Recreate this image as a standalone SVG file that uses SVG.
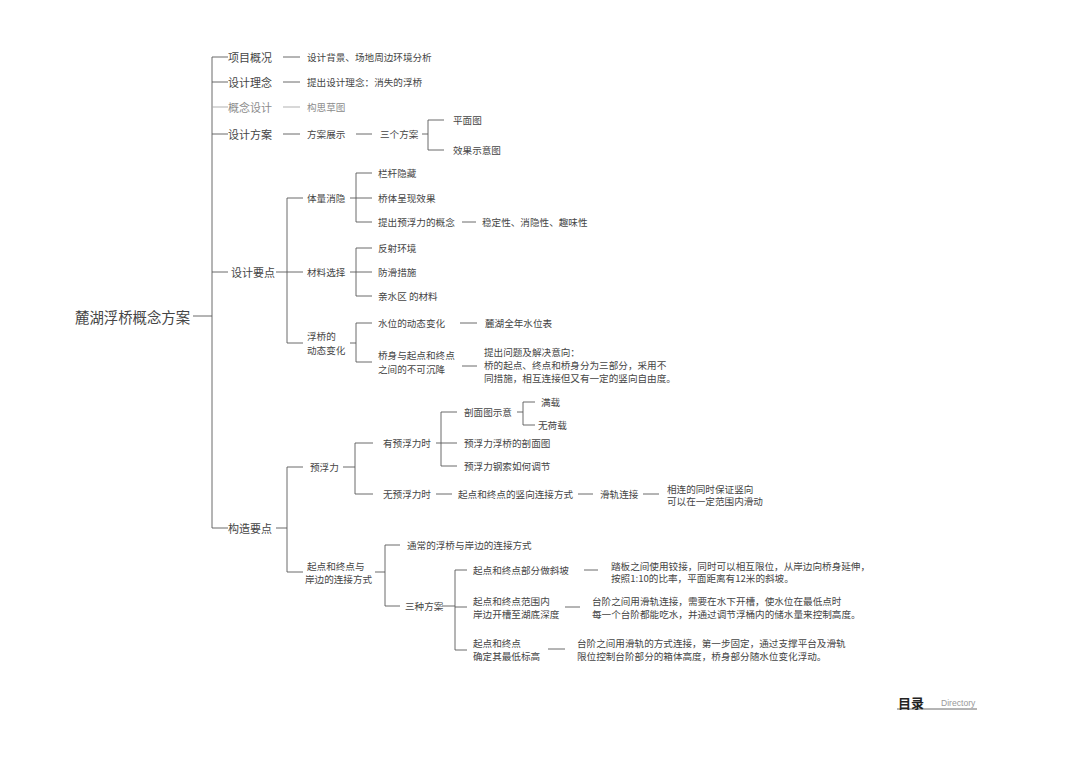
<svg xmlns="http://www.w3.org/2000/svg" width="1080" height="764" viewBox="0 0 1080 764">
<style>
text{font-family:"Noto Sans CJK SC","Liberation Serif",serif;fill:#454545;dominant-baseline:central}
.s{font-size:9.6px}
.m{font-size:11px}
.r{font-size:14.4px}
.lt{fill:#8c8c8c}
.c path{fill:none;stroke:#5a5a5a;stroke-width:0.9}
.c path.l{stroke:#a8a8a8}
</style>
<rect width="1080" height="764" fill="#fff"/>
<g id="connectors" class="c">
<path d="M212 57V528M193 316H212"/>
<path d="M212 57H228M212 82H228M212 134H228M212 272H228M212 528H228"/>
<path class="l" d="M212 107H228M283 107H300"/>
<path d="M283 57H300M283 82H300M283 134H300M356 134H372M422 134H428M444 120H428V150H444"/>
<path d="M276 272H303M287 198V343M287 198H303M287 343H303"/>
<path d="M350 198H356M372 173H356V222H372M356 198H372M462 222H476"/>
<path d="M350 272H372M372 248H356V296H372"/>
<path d="M350 343H356M372 323H356V362H372M460 323H477M462 366H477"/>
<path d="M276 528H287M287 467V572M287 467H303M287 572H303"/>
<path d="M343 467H355M373 443H355V494H373"/>
<path d="M436 443H441M457 412H441V466H457M441 443H457M517 412H523M535 402H523V425H535"/>
<path d="M436 494H452M578 494H593M643 494H659"/>
<path d="M375 572H385M400 545H385V606H400M442 606H455M467 570H455V650H467M455 607H467"/>
<path d="M584 570H598M565 607H580M548 649H565"/>
<path d="M897 709H977" stroke="#222" stroke-width="1.2"/>
</g>
<g id="root"><text class="r" x="75" y="316">麓湖浮桥概念方案</text></g>
<g id="n1"><text class="m" x="228" y="57">项目概况</text><text class="s" x="307" y="57">设计背景、场地周边环境分析</text></g>
<g id="n2"><text class="m" x="228" y="82">设计理念</text><text class="s" x="307" y="82">提出设计理念：消失的浮桥</text></g>
<g id="n3"><text class="m lt" x="228" y="107">概念设计</text><text class="s lt" x="307" y="107">构思草图</text></g>
<g id="n4"><text class="m" x="228" y="134">设计方案</text><text class="s" x="307" y="134">方案展示</text><text class="s" x="380" y="134">三个方案</text><text class="s" x="453" y="120">平面图</text><text class="s" x="453" y="150">效果示意图</text></g>
<g id="n5"><text class="m" x="231" y="272">设计要点</text></g>
<g id="n5a"><text class="s" x="307" y="198">体量消隐</text><text class="s" x="378" y="173">栏杆隐藏</text><text class="s" x="378" y="198">桥体呈现效果</text><text class="s" x="378" y="222">提出预浮力的概念</text><text class="s" x="482" y="222">稳定性、消隐性、趣味性</text></g>
<g id="n5b"><text class="s" x="307" y="272">材料选择</text><text class="s" x="378" y="248">反射环境</text><text class="s" x="378" y="272">防滑措施</text><text class="s" x="378" y="296">亲水区 的材料</text></g>
<g id="n5c"><text class="s" x="307" y="336">浮桥的</text><text class="s" x="307" y="350">动态变化</text><text class="s" x="378" y="323">水位的动态变化</text><text class="s" x="485" y="323">麓湖全年水位表</text><text class="s" x="378" y="355">桥身与起点和终点</text><text class="s" x="378" y="369">之间的不可沉降</text><text class="s" x="484" y="352">提出问题及解决意向：</text><text class="s" x="484" y="365">桥的起点、终点和桥身分为三部分，采用不</text><text class="s" x="484" y="378">同措施，相互连接但又有一定的竖向自由度。</text></g>
<g id="n6"><text class="m" x="228" y="528">构造要点</text></g>
<g id="n6a"><text class="s" x="310" y="467">预浮力</text><text class="s" x="383" y="443">有预浮力时</text><text class="s" x="464" y="412">剖面图示意</text><text class="s" x="541" y="402">满载</text><text class="s" x="538" y="425">无荷载</text><text class="s" x="464" y="443">预浮力浮桥的剖面图</text><text class="s" x="464" y="466">预浮力钢索如何调节</text><text class="s" x="383" y="494">无预浮力时</text><text class="s" x="458" y="494">起点和终点的竖向连接方式</text><text class="s" x="600" y="494">滑轨连接</text><text class="s" x="667" y="489">相连的同时保证竖向</text><text class="s" x="667" y="501">可以在一定范围内滑动</text></g>
<g id="n6b"><text class="s" x="307" y="566">起点和终点与</text><text class="s" x="305" y="579">岸边的连接方式</text><text class="s" x="407" y="545">通常的浮桥与岸边的连接方式</text><text class="s" x="405" y="606">三种方案</text>
<text class="s" x="473" y="570">起点和终点部分做斜坡</text><text class="s" x="611" y="566">踏板之间使用铰接，同时可以相互限位，从岸边向桥身延伸，</text><text class="s" x="611" y="578">按照1:10的比率，平面距离有12米的斜坡。</text>
<text class="s" x="473" y="601">起点和终点范围内</text><text class="s" x="473" y="614">岸边开槽至湖底深度</text><text class="s" x="592" y="601">台阶之间用滑轨连接，需要在水下开槽，使水位在最低点时</text><text class="s" x="592" y="614">每一个台阶都能吃水，并通过调节浮桶内的储水量来控制高度。</text>
<text class="s" x="473" y="643">起点和终点</text><text class="s" x="473" y="656">确定其最低标高</text><text class="s" x="577" y="643">台阶之间用滑轨的方式连接，第一步固定，通过支撑平台及滑轨</text><text class="s" x="577" y="656">限位控制台阶部分的箱体高度，桥身部分随水位变化浮动。</text></g>
<g id="footer"><text x="898" y="702" style="font-size:13px;font-weight:bold;fill:#222">目录</text><text x="941" y="703" style="font-family:'Liberation Sans',sans-serif;font-size:8.6px;fill:#999">Directory</text></g>
</svg>
